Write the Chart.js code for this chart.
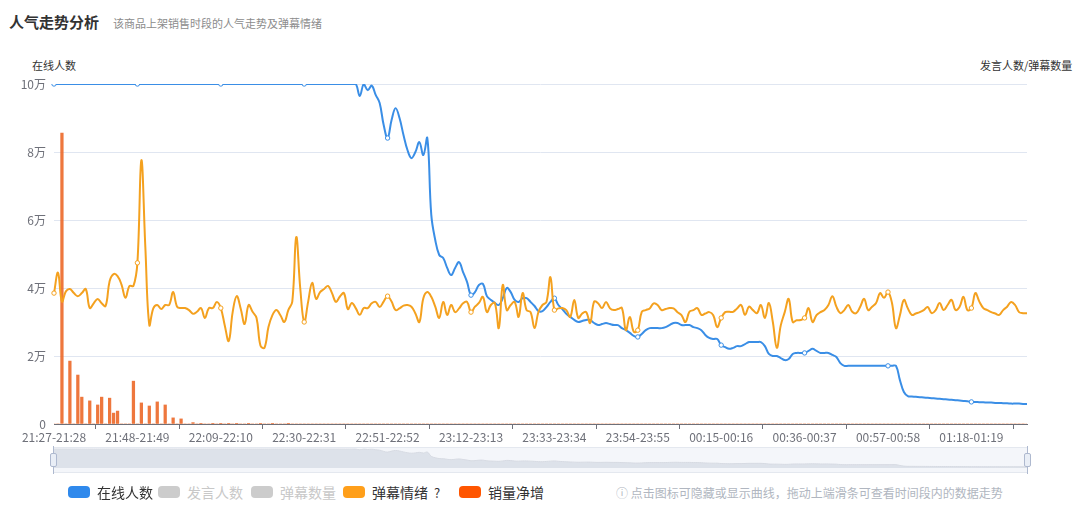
<!DOCTYPE html>
<html>
<head>
<meta charset="utf-8">
<script src="https://cdn.jsdelivr.net/npm/chart.js@4.4.1/dist/chart.umd.min.js"></script>
<style>
  html,body{margin:0;padding:0;background:#fff;}
  body{width:1080px;height:516px;position:relative;overflow:hidden;font-family:'Noto Sans CJK SC','Noto Sans',sans-serif;}
  .abs{position:absolute;white-space:nowrap;}
  .lg{position:absolute;top:485px;height:14px;display:flex;align-items:center;font-size:14px;color:#333;white-space:nowrap;}
  .lg i{display:inline-block;width:22px;height:12px;border-radius:4px;margin-right:7px;}
</style>
</head>
<body>
<div class="abs" style="left:9px;top:11px;font-size:15px;font-weight:bold;color:#333;">人气走势分析</div>
<div class="abs" style="left:113px;top:15px;font-size:11px;color:#8c8c8c;">该商品上架销售时段的人气走势及弹幕情绪</div>
<div class="abs" style="left:32px;top:57px;font-size:11px;color:#333;">在线人数</div>
<div class="abs" style="left:980px;top:57px;font-size:11px;color:#333;">发言人数/弹幕数量</div>

<canvas id="main" class="abs" style="left:0;top:0;" width="1080" height="446"></canvas>

<div class="abs" style="left:54px;top:447px;width:973px;height:26px;background:#f4f6fa;border-top:1px solid #e4e8ef;border-bottom:1px solid #e4e8ef;box-sizing:border-box;"></div>
<canvas id="mini" class="abs" style="left:54px;top:448px;" width="973" height="24"></canvas>
<div class="abs" style="left:53px;top:446px;width:1px;height:28px;background:#aeb9cf;"></div>
<div class="abs" style="left:50px;top:453px;width:7px;height:14px;border:1px solid #aeb9cf;border-radius:2px;background:#e9eef6;box-sizing:border-box;"></div>
<div class="abs" style="left:1027px;top:446px;width:1px;height:28px;background:#aeb9cf;"></div>
<div class="abs" style="left:1024px;top:453px;width:7px;height:14px;border:1px solid #aeb9cf;border-radius:2px;background:#e9eef6;box-sizing:border-box;"></div>

<div class="lg" style="left:68px;"><i style="background:#2f89ec"></i>在线人数</div>
<div class="lg" style="left:158px;color:#c8c8c8;"><i style="background:#cccccc"></i>发言人数</div>
<div class="lg" style="left:251px;color:#c8c8c8;"><i style="background:#cccccc"></i>弹幕数量</div>
<div class="lg" style="left:343px;"><i style="background:#ff9f1a"></i>弹幕情绪 <span style="margin-left:6px;font-size:13px;">?</span></div>
<div class="lg" style="left:459px;"><i style="background:#ff5500"></i>销量净增</div>
<div class="abs" style="left:616px;top:484px;font-size:12px;color:#b0b6c0;width:464px;overflow:hidden;">ⓘ 点击图标可隐藏或显示曲线，拖动上端滑条可查看时间段内的数据走势</div>

<script>
// ---------- data ----------
const startTime = '21:27';
const minuteCount = 246;
const labelStep = 21;
const yTicks = [0, 2, 4, 6, 8, 10]; // 万

// 在线人数 (万)
const onlineWan = [
10,10,10,10,10,10,10,10,10,10,10,10,10,10,10,10,10,10,10,10,10,
10,10,10,10,10,10,10,10,10,10,10,10,10,10,10,10,10,10,10,10,10,
10,10,10,10,10,10,10,10,10,10,10,10,10,10,10,10,10,10,10,10,10,
10,10,10,10,10,10,10,10,10,10,10,10,10,10,
9.65,10,9.82,9.95,9.68,9.44,8.8,8.41,8.94,9.29,9.0,8.5,8.06,7.82,8.0,8.29,7.91,8.41,
6.15,5.41,4.97,4.88,4.59,4.38,4.59,4.76,4.47,4.18,3.79,3.88,4.09,4.12,3.76,3.65,3.56,3.5,3.7,4.0,
3.88,3.65,3.59,3.7,3.7,3.59,3.47,3.32,3.32,3.44,3.59,3.7,3.5,3.38,3.24,3.15,3.06,3.0,3.03,3.06,
3.06,2.97,2.91,2.94,2.97,2.94,2.91,2.91,2.82,2.76,2.68,2.59,2.56,2.65,2.76,2.82,2.82,2.82,2.82,2.85,
2.91,2.97,2.97,2.91,2.91,2.91,2.85,2.82,2.76,2.62,2.53,2.5,2.5,2.32,2.26,2.21,2.24,2.29,2.29,2.35,
2.41,2.41,2.41,2.41,2.29,2.06,2.0,2.0,1.94,1.88,1.91,2.06,2.09,2.09,2.09,2.15,2.21,2.15,2.09,2.09,
2.09,2.03,1.97,1.79,1.71,
1.71,1.71,1.71,1.71,1.71,1.71,1.71,1.71,1.71,1.71,1.71,1.71,1.71,
1.29,0.94,0.82,0.81,0.8,0.79,0.78,0.77,0.76,0.75,0.74,0.73,0.72,0.71,0.7,0.69,0.68,0.67,0.65,0.65,
0.64,0.64,0.63,0.63,0.62,0.62,0.61,0.61,0.6,0.6,0.6,0.59,0.59
];

// 弹幕情绪 (plotted on the same scale, 万)
const emotion = [
3.85,4.45,3.6,3.9,3.97,3.85,3.76,3.85,3.97,3.41,3.55,3.68,3.55,3.47,4.2,4.41,4.35,4.1,3.71,4.06,4.06,
4.74,7.76,5.2,2.91,3.4,3.5,3.38,3.5,3.5,3.88,3.45,3.41,3.41,3.35,3.24,3.3,3.41,3.12,3.41,3.41,3.59,
3.41,2.9,2.44,3.3,3.76,3.4,2.94,3.5,3.3,3.12,2.3,2.24,2.85,3.2,3.35,3.2,3.0,3.35,3.6,5.5,4.0,
3.0,3.6,4.15,3.68,3.88,3.97,4.06,3.85,3.59,3.75,3.85,3.38,3.56,3.4,3.21,3.41,3.41,3.55,3.59,3.44,3.6,
3.76,3.6,3.35,3.4,3.48,3.5,3.45,3.25,3.0,3.7,3.88,3.74,3.45,3.12,3.59,3.21,3.5,3.29,3.4,3.55,3.59,
3.29,3.45,3.56,3.74,3.29,3.5,3.56,2.82,4.09,3.35,3.5,3.59,3.15,3.85,3.35,3.29,2.82,3.3,3.5,3.59,4.32,
3.35,3.4,3.41,3.35,3.15,3.65,3.12,3.25,3.29,2.97,3.6,3.55,3.41,3.59,3.4,3.35,3.38,3.41,2.76,3.15,2.71,
2.76,3.3,3.35,3.4,3.55,3.5,3.35,3.38,3.41,3.4,3.29,3.2,3.0,3.3,3.35,3.41,3.21,3.25,3.29,3.2,2.85,
3.12,3.29,3.3,3.3,3.4,3.5,3.21,3.45,3.35,3.26,3.5,3.12,3.56,3.0,2.24,2.9,3.29,3.68,3.0,3.05,3.06,
3.12,3.41,3.0,3.2,3.29,3.35,3.5,3.76,3.45,3.26,3.35,3.5,3.3,3.26,3.45,3.68,3.35,3.45,3.56,3.85,3.71,
3.88,3.56,2.82,3.2,3.65,3.4,3.21,3.25,3.29,3.35,3.44,3.26,3.35,3.56,3.35,3.5,3.65,3.35,3.44,3.74,3.35,
3.41,3.85,3.6,3.41,3.35,3.29,3.25,3.21,3.35,3.45,3.59,3.5,3.29,3.26,3.26
];

// 销量净增 (plotted on the same scale, 万)
const salesNet = [
0,0,8.56,0,1.85,0,1.44,0.79,0,0.68,0,0.56,0.79,0,0.76,0.32,0.38,0,0,0,1.26,
0,0.62,0,0.53,0,0.65,0,0.56,0,0.18,0,0.15,0,0,0.04,0,0.02,0,0,0.02,0,
0.02,0,0.01,0,0.01,0,0,0.01,0,0,0.01,0,0,0.01,0,0,0,0.01,0,0,0,
0,0,0,0,0,0,0,0,0,0,0,0,0,0,0,0,0,0,0,0,0,
0,0,0,0,0,0,0,0,0,0,0,0,0,0,0,0,0,0,0,0,0,
0,0,0,0,0,0,0,0,0,0,0,0,0,0,0,0,0,0,0,0,0,
0,0,0,0,0,0,0,0,0,0,0,0,0,0,0,0,0,0,0,0,0,
0,0,0,0,0,0,0,0,0,0,0,0,0,0,0,0,0,0,0,0,0,
0,0,0,0,0,0,0,0,0,0,0,0,0,0,0,0,0,0,0,0,0,
0,0,0,0,0,0,0,0,0,0,0,0,0,0,0,0,0,0,0,0,0,
0,0,0,0,0,0,0,0,0,0,0,0,0,0,0,0,0,0,0,0,0,
0,0,0,0,0,0,0,0,0,0,0,0,0,0,0,0,0,0,0,0,0
];

// category labels: one-minute buckets
function pad(n){return (n<10?'0':'')+n;}
const categories = [];
{
  let [h,m] = startTime.split(':').map(Number);
  let t = h*60+m;
  for (let k=0;k<minuteCount;k++){
    const a=(t+k)%1440, b=(t+k+1)%1440;
    categories.push(pad(Math.floor(a/60))+':'+pad(a%60)+'-'+pad(Math.floor(b/60))+':'+pad(b%60));
  }
}

// ---------- chart ----------
Chart.defaults.font.family = "'Noto Sans CJK SC','Noto Sans',sans-serif";
Chart.defaults.font.size = 12;
Chart.defaults.color = '#6e7079';

const markerR = ctx => (ctx.dataIndex % labelStep === 0 ? 2.2 : 0);

new Chart(document.getElementById('main'), {
  type: 'line',
  data: {
    labels: categories,
    datasets: [
      {
        label: '在线人数', data: onlineWan, borderColor: '#3a8ee6', borderWidth: 2,
        tension: 0.4, pointRadius: markerR, pointBackgroundColor: '#fff',
        pointBorderColor: '#3a8ee6', pointBorderWidth: 1, order: 3
      },
      {
        type: 'bar', label: '销量净增', data: salesNet,
        backgroundColor: 'rgba(236,104,40,0.9)', barThickness: 2.6, order: 2
      },
      {
        label: '弹幕情绪', data: emotion, borderColor: '#f4a11f', borderWidth: 2,
        tension: 0.4, pointRadius: markerR, pointBackgroundColor: '#fff',
        pointBorderColor: '#f4a11f', pointBorderWidth: 1, order: 1
      }
    ]
  },
  options: {
    responsive: false, animation: false, devicePixelRatio: 1,
    layout: { padding: { top: 84, right: 53, left: 0, bottom: 0 } },
    plugins: { legend: { display: false }, tooltip: { enabled: false } },
    scales: {
      x: {
        type: 'category', offset: false,
        grid: { drawOnChartArea: false, drawTicks: true, tickLength: 5, color: '#6e7079' },
        border: { color: '#6e7079' },
        ticks: {
          autoSkip: false, maxRotation: 0, padding: 1, color: '#6e7079',
          callback: function(v, i){ return i % labelStep === 0 ? this.getLabelForValue(v) : null; }
        },
        afterFit: s => { s.height = 22; }
      },
      y: {
        min: 0, max: 10,
        afterBuildTicks: s => { s.ticks = yTicks.map(v => ({ value: v })); },
        grid: { color: '#e0e6f1', drawTicks: false },
        border: { display: false },
        ticks: { padding: 8, color: '#6e7079', callback: v => (v === 0 ? '0' : v + '万') },
        afterFit: s => { s.width = 54; }
      }
    }
  }
});

// data-zoom slider preview
new Chart(document.getElementById('mini'), {
  type: 'line',
  data: {
    labels: categories,
    datasets: [{
      data: onlineWan, borderColor: '#d6dae2', borderWidth: 1, backgroundColor: 'rgba(214,219,228,0.75)',
      fill: 'origin', tension: 0.4, pointRadius: 0
    }]
  },
  options: {
    responsive: false, animation: false, devicePixelRatio: 1,
    layout: { padding: 0 },
    plugins: { legend: { display: false }, tooltip: { enabled: false } },
    scales: {
      x: { display: false, offset: false },
      y: { display: false, min: -2.2, max: 10.6 }
    }
  }
});
</script>
</body>
</html>
